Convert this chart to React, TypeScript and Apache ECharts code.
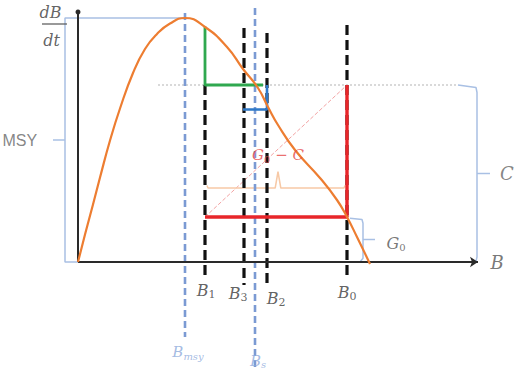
import React, { useEffect, useRef } from "react";
import * as echarts from "echarts";

// Surplus production curve (B -> dB/dt), in chart units
const curveB = [0, 1.75, 3.75, 5.5, 8, 10.5, 13.75, 16.75, 19.75, 23, 26.75, 31.75, 37.25, 41.25, 45, 47.5, 50, 54.25, 60.5, 64.75, 67.25, 69.75, 73];
const curveG = [0, 11, 23, 33.8, 48.6, 61.4, 75.6, 85.2, 91.2, 95.4, 97.6, 94, 86, 77.2, 69.6, 62, 54.8, 44.8, 33.6, 24.8, 18, 10, -0.8];

// Biomass markers (black dashed)
const stockSub = ["1", "3", "2", "0"];
const stockB = [31.75, 41.5, 47.25, 67.25];
const stockTop = [70.8, 93.6, 91.6, 94.8];
const stockBottom = [-5.2, -9.2, -8.4, -5.6];
const stockLabelB = [32, 40, 49.5, 67.25];
const stockLabelY = [-11.2, -12.4, -14.4, -12];

// Reference biomasses (blue dashed)
const refSub = ["msy", "s"];
const refB = [26.75, 44.25];
const refTop = [99.6, 101.6];
const refBottom = [-30, -44];
const refLabelB = [27.5, 45];
const refLabelY = [-36, -39.4];

// Levels
const MSY = 97.6;
const C_LEVEL = 70.8;
const G0_LEVEL = 18;
const G1_LEVEL = 94.2;
const G2_LEVEL = 61;
const G2_START = 41.25;
const GREEN_END = 46.25;
const BRACE_LEVEL = 29.6;
const AXIS_MAX = 100;

const SERIF = "'DejaVu Serif', 'Liberation Serif', serif";

function seg(points: number[][], color: string, width: number, type: any = "solid", z = 2) {
  return {
    type: "line",
    data: points,
    symbol: "none",
    silent: true,
    lineStyle: { color, width, type, cap: "butt" },
    z,
  };
}

function textAt(x: number, y: number, formatter: string, rich: any, align = "center") {
  return {
    type: "scatter",
    data: [[x, y]],
    symbolSize: 1,
    itemStyle: { color: "rgba(0,0,0,0)" },
    silent: true,
    z: 10,
    label: { show: true, position: "inside", align, verticalAlign: "middle", formatter, rich },
  };
}

function subRich(color: string, size = 15, subSize = 10) {
  return {
    b: { fontFamily: SERIF, fontStyle: "italic", fontSize: size, color, lineHeight: size + 3, verticalAlign: "middle" },
    s: { fontFamily: SERIF, fontStyle: "italic", fontSize: subSize, color, lineHeight: size + 3, verticalAlign: "bottom" },
    n: { fontFamily: SERIF, fontSize: subSize, color, lineHeight: size + 3, verticalAlign: "bottom" },
  };
}

export default function App() {
  const ref = useRef<HTMLDivElement>(null);
  useEffect(() => {
    if (!ref.current) return;
    const chart = echarts.init(ref.current, null, { renderer: "svg" });
    const series: any[] = [];

    // axes
    series.push({
      type: "line",
      data: [],
      silent: true,
      markLine: {
        silent: true,
        animation: false,
        label: { show: false },
        data: [
          [{ coord: [0, 0], symbol: "none" }, { coord: [AXIS_MAX, 0], symbol: "arrow", symbolSize: 8 }],
          [{ coord: [0, 0], symbol: "none" }, { coord: [0, AXIS_MAX], symbol: "circle", symbolSize: 5 }],
        ],
        lineStyle: { color: "#2a2a2a", width: 2, type: "solid" },
      },
    });

    // braces (light blue)
    const braceColor = "#a9c0e4";
    series.push(seg([[refB[0], MSY], [-3.25, MSY], [-3.25, 0], [0, 0]], braceColor, 1.5));
    series.push(seg([[-3.25, MSY / 2], [-6.25, MSY / 2]], braceColor, 1.5));
    series.push(seg([[95, C_LEVEL], [99.5, C_LEVEL - 1], [99.75, C_LEVEL - 3], [99.75, 2], [99.5, 0.3]], braceColor, 1.5));
    series.push(seg([[99.75, C_LEVEL / 2], [103, C_LEVEL / 2]], braceColor, 1.5));
    series.push(seg([[stockB[3] + 0.75, G0_LEVEL - 0.5], [71, G0_LEVEL - 1], [71.25, G0_LEVEL - 2.5], [71.25, 1.5], [70.5, 0]], braceColor, 1.5));
    series.push(seg([[71.25, G0_LEVEL / 2], [74.25, G0_LEVEL / 2]], braceColor, 1.5));

    // grey dotted C level
    series.push(seg([[20, C_LEVEL], [95, C_LEVEL]], "#b4b4b4", 1.2, [2, 2], 1));

    // pink diagonal
    series.push(seg([[stockB[0], G0_LEVEL], [stockB[3], C_LEVEL]], "#f3a3a3", 1, [4, 2], 1));

    // light orange brace (G0 - C)
    series.push(seg([[32.25, BRACE_LEVEL + 1], [32.5, BRACE_LEVEL], [49.3, BRACE_LEVEL], [50, BRACE_LEVEL + 6.5], [50.7, BRACE_LEVEL], [66.5, BRACE_LEVEL], [66.75, BRACE_LEVEL + 1]], "#f7c9a6", 1.5, "solid", 1));

    // blue reference dashed lines
    refB.forEach((b, i) => {
      series.push(seg([[b, refTop[i]], [b, refBottom[i]]], "#7b9ad3", 2.6, [7, 4], 3));
    });

    // black dashed stock lines
    stockB.forEach((b, i) => {
      series.push(seg([[b, stockTop[i]], [b, stockBottom[i]]], "#111111", 3.2, [10, 5], 4));
    });

    // green
    series.push(seg([[stockB[0], G1_LEVEL], [stockB[0], C_LEVEL], [GREEN_END, C_LEVEL]], "#2fa84f", 2.8, "solid", 5));
    // blue
    series.push(seg([[G2_START, G2_LEVEL], [stockB[2], G2_LEVEL], [stockB[2], C_LEVEL]], "#2e78c8", 2.6, "solid", 5));
    // red
    series.push(seg([[stockB[0], G0_LEVEL], [stockB[3], G0_LEVEL], [stockB[3], C_LEVEL]], "#e8262a", 3.4, "solid", 5));

    // production curve
    series.push({
      type: "line",
      data: curveB.map((b, i) => [b, curveG[i]]),
      symbol: "none",
      smooth: 0.5,
      silent: true,
      lineStyle: { color: "#ed7d31", width: 2.2 },
      z: 6,
    });

    // labels
    stockSub.forEach((s, i) => {
      series.push(textAt(stockLabelB[i], stockLabelY[i], `{b|B}{n|${s}}`, subRich("#3a3a3a", 16, 11)));
    });
    refSub.forEach((s, i) => {
      series.push(textAt(refLabelB[i], refLabelY[i], `{b|B}{s|${s}}`, subRich("#8eaadb", 15, 10)));
    });
    series.push(textAt(50, 42.8, "{b|G}{n|0}{b| − C}", subRich("#e54848", 15, 10)));
    series.push(textAt(79.5, 7.6, "{b|G}{n|0}", subRich("#555555", 16, 10)));
    series.push(textAt(107.25, 35.6, "{b|C}", subRich("#666666", 18, 10)));
    series.push(textAt(104.75, 0, "{b|B}", subRich("#555555", 18, 10)));
    series.push(textAt(-18.9, MSY / 2, "{m|MSY}", { m: { fontFamily: "'Liberation Sans', Arial, sans-serif", fontSize: 16, color: "#666666" } }, "left"));
    // dB/dt fraction
    series.push(textAt(-6.9, 100, "{b|dB}", subRich("#3c3c3c", 16, 10)));
    series.push(textAt(-6.6, 88.6, "{b|dt}", subRich("#3c3c3c", 16, 10)));
    series.push(seg([[-9, 95.2], [-2.75, 95.2]], "#555555", 1.2));

    chart.setOption({
      animation: false,
      backgroundColor: "#ffffff",
      grid: { left: 0, top: 0, right: 0, bottom: 0, containLabel: false },
      xAxis: { type: "value", min: -19.5, max: 111.75, show: false },
      yAxis: { type: "value", min: -43.6, max: 104.8, show: false },
      series,
    });
    return () => chart.dispose();
  }, []);
  return <div ref={ref} style={{ position: "absolute", left: 0, top: 0, width: 525, height: 371 }} />;
}
